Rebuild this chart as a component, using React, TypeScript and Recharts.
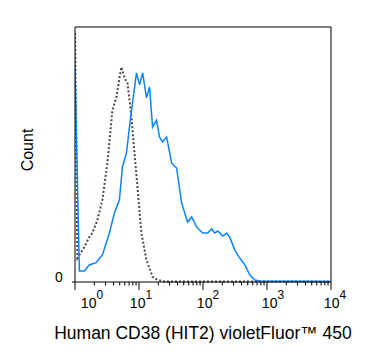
import { LineChart, Line, XAxis, YAxis, ReferenceLine } from 'recharts'

// CD38 stained sample (blue): fluorescence intensity vs count (% of max)
const stainedIntensity = [1, 1.17, 1.4, 1.67, 2.13, 2.68, 3.45, 4.13, 4.94, 5.51, 6.37, 7.1, 7.91, 9.14, 10.2, 11.4, 13.1, 14.6, 16.3, 18.8, 20.9, 23.3, 27, 32.3, 38.7, 46.3, 57.4, 66.4, 79.4, 98.9, 118, 137, 152, 170, 204, 235, 262, 314, 376, 450, 540, 646, 774, 10000]
const stainedCount = [84, 4.3, 4.3, 6.7, 7.6, 10.6, 19.2, 27.1, 32.2, 45.1, 50.6, 60.8, 70.2, 82, 77.3, 82, 72.2, 76.5, 60.8, 63.5, 56.9, 54.9, 56.9, 46.7, 44.7, 31, 23.5, 25.5, 21.6, 19.2, 19.2, 20.8, 19.2, 20, 18, 19.2, 17.6, 12.5, 9.4, 6.7, 2.7, 0.8, 0.4, 0.2]

// isotype control (grey dotted)
const controlIntensity = [1, 1.09, 1.4, 1.67, 1.87, 2.24, 2.68, 3.21, 3.85, 4.44, 4.94, 5.32, 5.93, 6.61, 7.62, 8.49, 9.46, 10.9, 13.1, 16.3, 19.5, 25.1, 10000]
const controlCount = [97.6, 9.4, 13.7, 17.6, 19.2, 24.3, 32.2, 46.7, 67.5, 72.5, 80, 84.3, 80, 78, 64.7, 50.6, 37.3, 19.2, 8.6, 2, 0.8, 0.2, 0.2]

const majorTicks = [1, 10, 100, 1000, 10000]
const decadeLabels = ['0', '1', '2', '3', '4']
const labelShift = [17, 2, 5, 6, 4]
const minorTicks = [1, 10, 100, 1000].flatMap((d) => [2, 3, 4, 5, 6, 7, 8, 9].map((m) => m * d))

const stainedData = stainedIntensity.map((x, i) => ({ x, count: stainedCount[i] }))
const controlData = controlIntensity.map((x, i) => ({ x, count: controlCount[i] }))

const font = '"Liberation Sans", Arial, sans-serif'

function XTick(props: any) {
  const { x, y, payload } = props
  const idx = majorTicks.indexOf(payload.value)
  const major = idx >= 0
  return (
    <g>
      <line x1={x} x2={x} y1={y} y2={y + (major ? 8 : 3.5)} stroke="#000" strokeWidth={1} />
      {major && (
        <text x={x + labelShift[idx]} y={y + 26} textAnchor="middle" fontSize={14} fontFamily={font} fill="#000">
          10
          <tspan dy={-9} fontSize={12}>{decadeLabels[idx]}</tspan>
        </text>
      )}
    </g>
  )
}

function YTick(props: any) {
  const { x, y, payload } = props
  return (
    <g>
      <line x1={x} x2={x + 3} y1={y} y2={y} stroke="#000" />
      <text x={x - 13} y={y} textAnchor="middle" fontSize={14} fontFamily={font} fill="#000">
        {payload.value}
      </text>
    </g>
  )
}

export default function App() {
  return (
    <div style={{ position: 'absolute', left: 0, top: 0, background: '#fff' }}>
      <LineChart width={375} height={363} margin={{ top: 27, right: 44, left: 0, bottom: 0 }}>
        <XAxis
          dataKey="x"
          type="number"
          scale="log"
          domain={[1, 10000]}
          allowDataOverflow
          ticks={[...majorTicks, ...minorTicks].sort((a, b) => a - b)}
          interval={0}
          height={81}
          tickSize={0}
          tickMargin={0}
          tickLine={false}
          axisLine={{ stroke: '#000', strokeWidth: 1 }}
          tick={<XTick />}
          label={{ value: 'Human CD38 (HIT2) violetFluor™ 450', position: 'insideBottom', offset: 24, fontSize: 17.5, fontFamily: font, fill: '#000' }}
        />
        <YAxis
          type="number"
          domain={[0, 100]}
          ticks={[0]}
          width={75}
          tickSize={3}
          tickMargin={0}
          tickLine={false}
          axisLine={{ stroke: '#000', strokeWidth: 1 }}
          tick={<YTick />}
          label={{
            content: () => (
              <text x={27} y={150} transform="rotate(-90 27 150)" textAnchor="middle" dominantBaseline="central" fontSize={16} fontFamily={font} fill="#000">
                Count
              </text>
            ),
          }}
        />
        <ReferenceLine y={100} stroke="#000" strokeWidth={1} />
        <ReferenceLine x={10000} stroke="#000" strokeWidth={1} />
        <Line
          data={controlData}
          dataKey="count"
          type="linear"
          stroke="#4a4a4a"
          strokeWidth={2}
          strokeDasharray="2 2"
          dot={false}
          isAnimationActive={false}
        />
        <Line
          data={stainedData}
          dataKey="count"
          type="linear"
          stroke="#0a84f5"
          strokeWidth={1.5}
          dot={false}
          isAnimationActive={false}
        />
      </LineChart>
    </div>
  )
}
